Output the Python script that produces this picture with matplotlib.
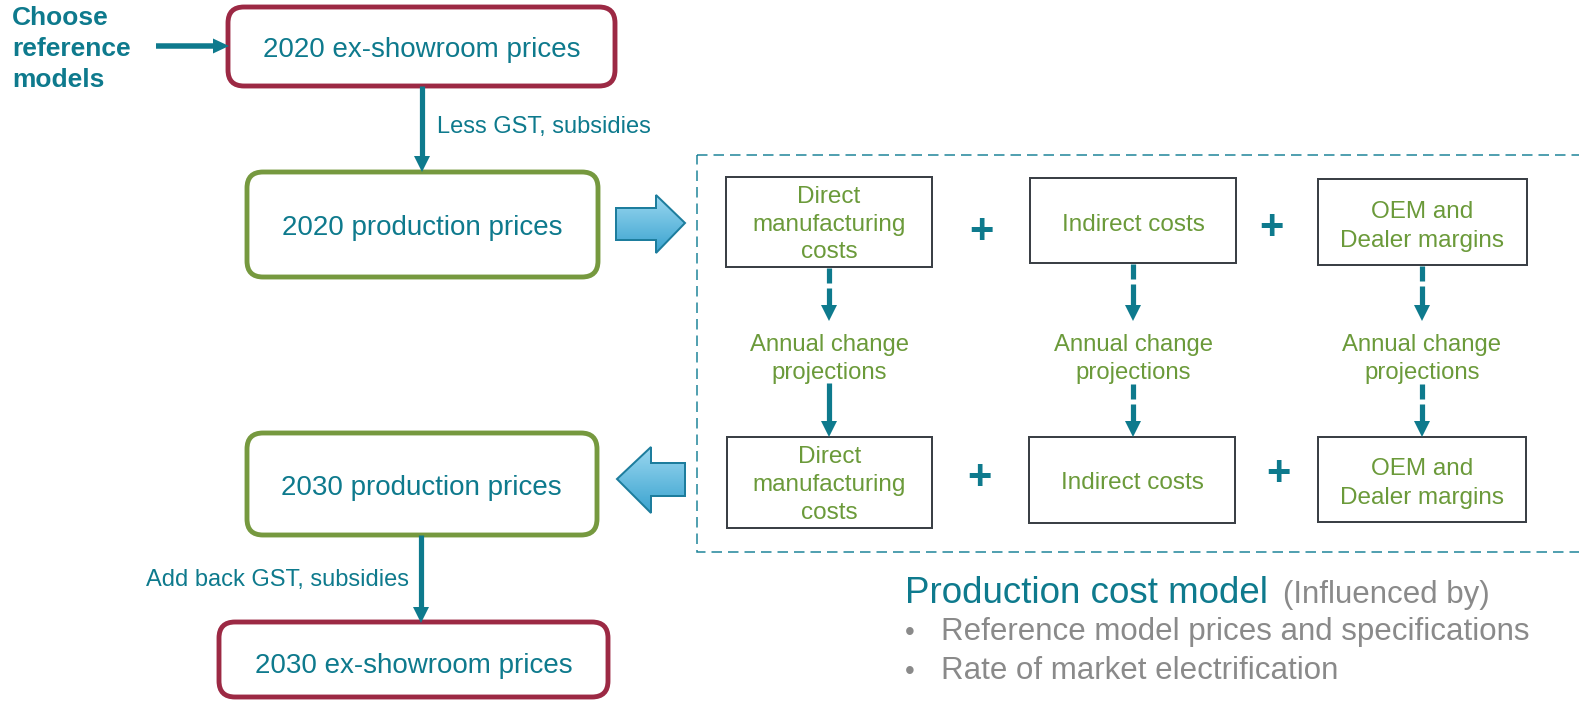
import numpy as np
import matplotlib.pyplot as plt
from matplotlib.patches import FancyBboxPatch, Rectangle, Polygon
from matplotlib.colors import LinearSegmentedColormap

plt.rcParams['font.family'] = ['Liberation Sans', 'DejaVu Sans']

# --- Colours ---
TEAL = '#0e7a8d'
RED = '#9c2944'
GREEN_EDGE = '#76993f'
GREEN_TXT = '#6b9a3a'
GRAY = '#8a8a8a'
BOX_EDGE = '#3b4046'

# --- Labels ---
source_label = "Choose\nreference\nmodels"
price_boxes = ["2020 ex-showroom prices", "2020 production prices",
               "2030 production prices", "2030 ex-showroom prices"]
price_box_colors = [RED, GREEN_EDGE, GREEN_EDGE, RED]
step_labels = ["Less GST, subsidies", "Add back GST, subsidies"]
cost_items = ["Direct\nmanufacturing\ncosts", "Indirect costs", "OEM and\nDealer margins"]
change_label = "Annual change\nprojections"
model_title = "Production cost model"
model_note = "(Influenced by)"
model_drivers = ["Reference model prices and specifications",
                 "Rate of market electrification"]

# --- Layout (pixel coordinates, y down) ---
price_rects = [(228, 7, 615, 86), (247, 172, 598, 277),
               (247, 433, 597, 535), (219, 622, 608, 697)]
price_text_pos = [(422, 57), (422, 235), (421, 495), (414, 673)]
col_x = [829, 1133, 1422]
top_rects = [(726, 177, 932, 267), (1030, 178, 1236, 263), (1318, 179, 1527, 265)]
bot_rects = [(727, 437, 932, 528), (1029, 437, 1235, 523), (1318, 437, 1526, 522)]
top_baselines = [[203, 231, 258], [231], [218, 247]]
bot_baselines = [[463, 491, 519], [489], [475, 504]]
plus_top = [(981, 228), (1271, 224)]
plus_bot = [(979, 474), (1278, 471)]

fig = plt.figure(figsize=(15.79, 7.01), dpi=100)
ax = fig.add_axes([0, 0, 1, 1])
ax.set_xlim(0, 1579)
ax.set_ylim(701, 0)
ax.axis('off')

PX = 72 / 100  # points per pixel


def text_lines(x, baselines, txt, **kw):
    for yb, line in zip(baselines, txt.split('\n')):
        ax.text(x, yb, line, va='baseline', **kw)


def arrow_v(x, y0, y1, dashed=False, head=16, hw=16, lw=5.2):
    ye = y1 - head
    if dashed:
        segs = [(y0 + 1, y0 + 16), (y0 + 21, ye)]
        for a, b in segs:
            ax.plot([x, x], [a, b], color=TEAL, lw=lw * PX, solid_capstyle='butt')
    else:
        ax.plot([x, x], [y0, ye + 1], color=TEAL, lw=lw * PX, solid_capstyle='butt')
    ax.add_patch(Polygon([(x - hw / 2, ye), (x + hw / 2, ye), (x, y1)],
                         closed=True, color=TEAL, lw=0))


def block_arrow(pts, y0, y1):
    cmap = LinearSegmentedColormap.from_list('blk', ['#9ad7f0', '#3aa3cf'])
    poly = Polygon(pts, closed=True, facecolor='none', edgecolor='#1d7d9d',
                   lw=2.0 * PX, zorder=3)
    ax.add_patch(poly)
    xs = [p[0] for p in pts]
    grad = np.linspace(0, 1, 64).reshape(-1, 1)
    im = ax.imshow(grad, cmap=cmap, aspect='auto',
                   extent=(min(xs), max(xs), y1, y0), zorder=2)
    im.set_clip_path(poly)


# --- Left column: price boxes ---
for (x0, y0, x1, y1), col, lab, (tx, ty) in zip(price_rects, price_box_colors,
                                                 price_boxes, price_text_pos):
    ax.add_patch(FancyBboxPatch((x0 + 8, y0 + 8), x1 - x0 - 16, y1 - y0 - 16,
                                boxstyle='round,pad=8,rounding_size=16',
                                facecolor='white', edgecolor=col, lw=3.5))
    ax.text(tx, ty, lab, color=TEAL, fontsize=20, ha='center', va='baseline')

text_lines(12, [25, 56, 87], source_label, color=TEAL, fontsize=19,
           fontweight='bold', ha='left')

# horizontal arrow into first box
ax.plot([156, 213], [46, 46], color=TEAL, lw=5.5 * PX, solid_capstyle='butt')
ax.add_patch(Polygon([(213, 38.5), (213, 53.5), (229, 46)], closed=True, color=TEAL, lw=0))

arrow_v(422, 86, 172)
ax.text(437, 133, step_labels[0], color=TEAL, fontsize=17, ha='left', va='baseline')
arrow_v(421, 535, 623)
ax.text(409, 586, step_labels[1], color=TEAL, fontsize=17, ha='right', va='baseline')

# --- Block arrows ---
block_arrow([(616, 208), (656, 208), (656, 195), (685, 223),
             (656, 253), (656, 240), (616, 240)], 195, 253)
block_arrow([(685, 463), (651, 463), (651, 447), (617, 479),
             (651, 513), (651, 496), (685, 496)], 447, 513)

# --- Production cost model container ---
ax.add_patch(Rectangle((697, 155), 1584 - 697, 552 - 155, facecolor='none',
                       edgecolor='#1a8298', lw=1.5 * PX, linestyle=(0, (7, 4))))

for i, cx in enumerate(col_x):
    for rects, bls in ((top_rects, top_baselines), (bot_rects, bot_baselines)):
        x0, y0, x1, y1 = rects[i]
        ax.add_patch(Rectangle((x0, y0), x1 - x0, y1 - y0, facecolor='white',
                               edgecolor=BOX_EDGE, lw=2.0 * PX))
        text_lines((x0 + x1) / 2, bls[i], cost_items[i], color=GREEN_TXT,
                   fontsize=17.5, ha='center')
    text_lines(cx, [351, 379], change_label, color=GREEN_TXT, fontsize=17.2, ha='center')
    arrow_v(cx, top_rects[i][3], 321, dashed=True)
    arrow_v(cx, 383, bot_rects[i][1], dashed=(i > 0))

for px, py in plus_top + plus_bot:
    ax.text(px, py + 14.5, '+', color=TEAL, fontsize=30, fontweight='bold',
            ha='center', va='baseline')

# --- Influencing factors ---
t = ax.text(905, 603, model_title, color=TEAL, fontsize=26.5, ha='left', va='baseline')
ax.text(1283, 603, model_note, color=GRAY, fontsize=22.5, ha='left', va='baseline')
for yb, drv in zip([640, 679], model_drivers):
    ax.text(905, yb, '•', color=GRAY, fontsize=20, ha='left', va='baseline')
    ax.text(941, yb, drv, color=GRAY, fontsize=22.5, ha='left', va='baseline')

fig.savefig('out.png', dpi=100)
